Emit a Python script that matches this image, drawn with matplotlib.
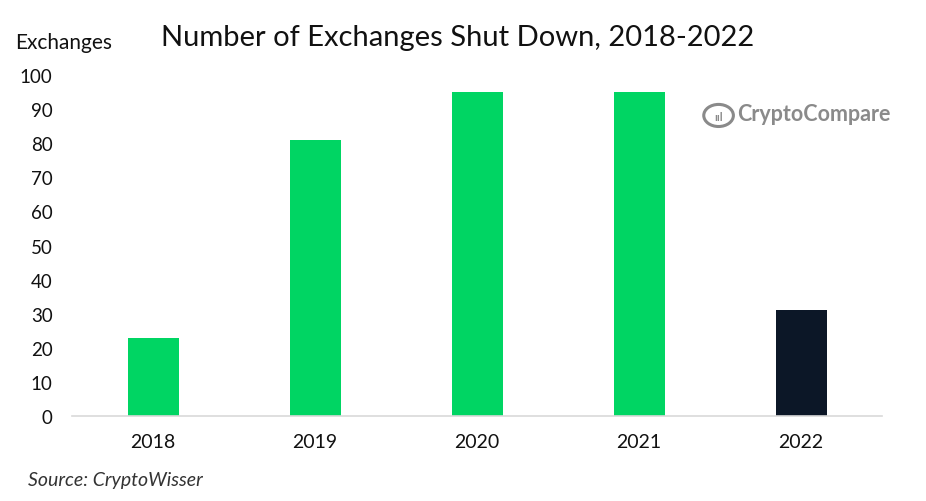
import matplotlib
matplotlib.use("Agg")
import matplotlib.pyplot as plt
from matplotlib.patches import Ellipse

years = ["2018", "2019", "2020", "2021", "2022"]
shutdowns = [23, 81, 95, 95, 31]
bar_colors = ["#00d563", "#00d563", "#00d563", "#00d563", "#0c1727"]
yticks = [0, 10, 20, 30, 40, 50, 60, 70, 80, 90, 100]

plt.rcParams["font.family"] = ["Lato", "DejaVu Sans"]

fig = plt.figure(figsize=(9.26, 5.02), dpi=100)
ax = fig.add_axes([0.0778, 0.1693, 0.8747, 0.6793])

x = range(len(years))
ax.bar(x, shutdowns, width=0.315, color=bar_colors)

ax.set_xlim(-0.5, len(years) - 0.5)
ax.set_ylim(0, 100)
ax.set_xticks(list(x))
ax.set_xticklabels(years, fontsize=14)
ax.set_yticks(yticks)
ax.set_yticklabels([str(t) for t in yticks], fontsize=13.5)
ax.tick_params(axis="both", length=0, colors="#111111")
ax.tick_params(axis="x", pad=12)
ax.tick_params(axis="y", pad=14)

for side in ["top", "right", "left"]:
    ax.spines[side].set_visible(False)
ax.spines["bottom"].set_color("#d9d9d9")
ax.spines["bottom"].set_linewidth(1.2)

fig.text(0.494, 0.925, "Number of Exchanges Shut Down, 2018-2022",
         ha="center", va="center", fontsize=21, color="#111111")
fig.text(0.016, 0.915, "Exchanges", ha="left", va="center",
         fontsize=15, color="#111111")
fig.text(0.03, 0.043, "Source: CryptoWisser", ha="left", va="center",
         fontsize=14, style="italic", color="#333333")

# logo
fig.text(0.796, 0.772, "CryptoCompare", ha="left", va="center",
         fontsize=15.5, fontweight="bold", color="#8a8a8a")
logo = Ellipse((0.776, 0.768), 0.032, 0.044, transform=fig.transFigure,
               fill=False, edgecolor="#8a8a8a", linewidth=2.2, angle=0)
fig.patches.append(logo)
fig.text(0.776, 0.766, "ııl", ha="center", va="center", fontsize=8,
         fontweight="bold", color="#8a8a8a")

fig.savefig("out.png", dpi=100)
